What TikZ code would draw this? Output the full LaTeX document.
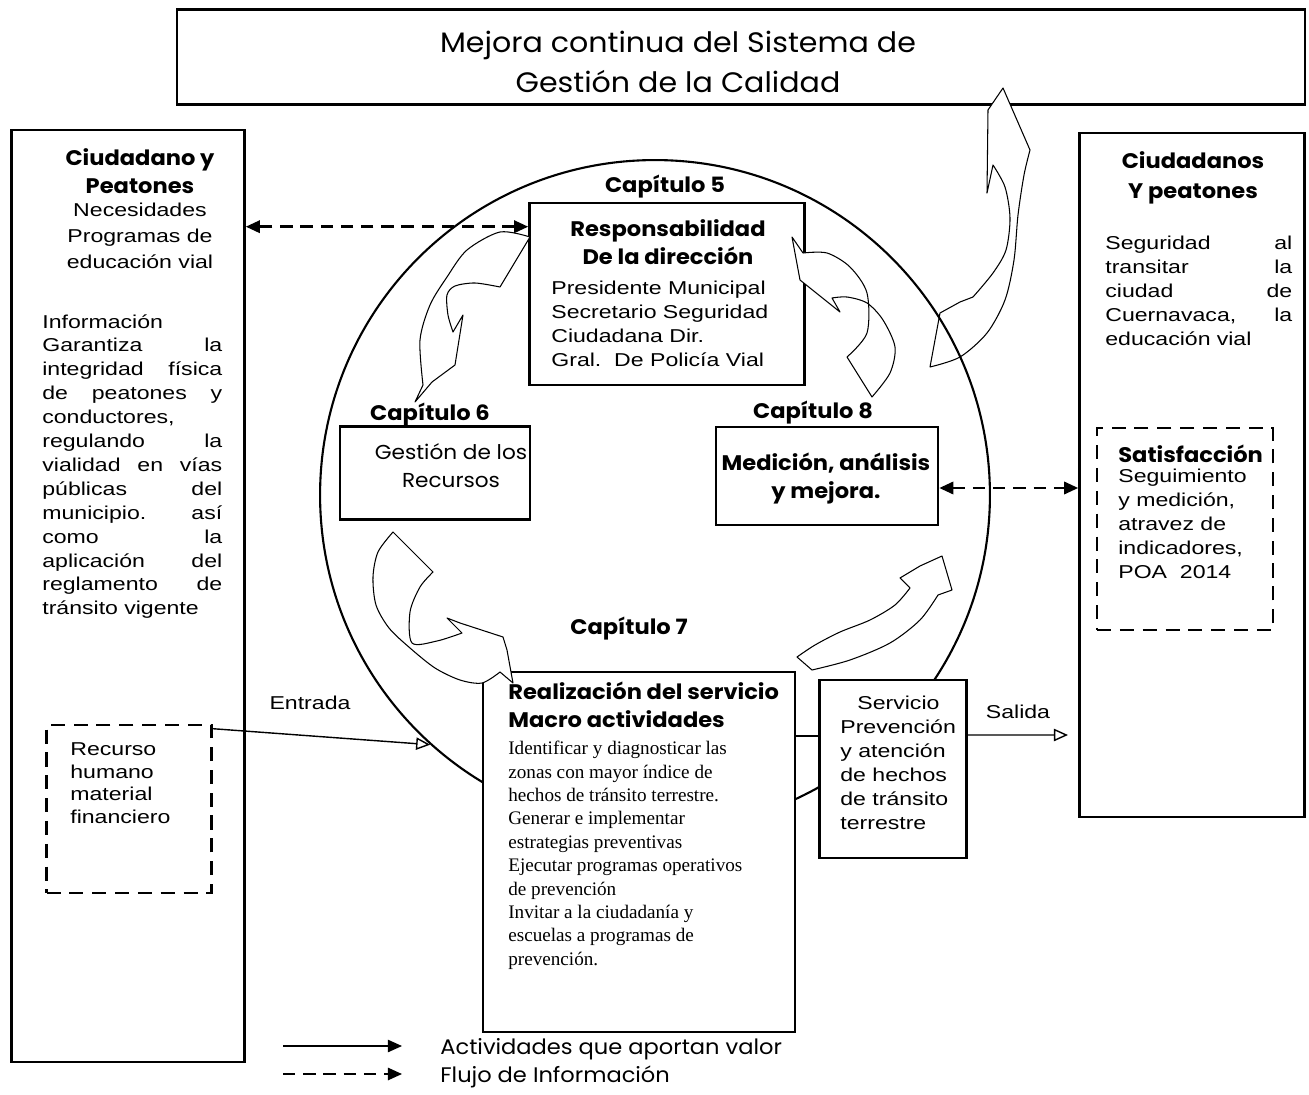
\documentclass[tikz,border=0pt]{standalone}
\usepackage{fontspec}
\setmainfont{Liberation Sans}
\newfontfamily\gothic[FakeStretch=1.07]{Poppins}
\newfontfamily\arialf[FakeStretch=1.24]{Liberation Sans}
\newfontfamily\timesf{Liberation Serif}
\usepackage{tikz}
\usetikzlibrary{arrows.meta,positioning,calc}

\begin{document}
\begin{tikzpicture}[
  x=0.02cm,y=-0.02cm,
  caja/.style={draw,line width=1.5pt,fill=white,inner sep=0pt},
  cajad/.style={draw,line width=1.5pt,dash pattern=on 8pt off 5pt,fill=white,inner sep=0pt},
  tit/.style={font=\gothic\fontsize{16}{22.7}\selectfont,align=center,inner sep=0pt},
  cab/.style={font=\gothic\bfseries\fontsize{12}{15.9}\selectfont,align=center,inner sep=0pt},
  cuerpo/.style={font=\arialf\fontsize{10.6}{13.6}\selectfont,inner sep=0pt},
  serif/.style={font=\timesf\fontsize{10.9}{13.3}\selectfont,inner sep=0pt,align=left},
  flecha/.style={draw,line width=0.6pt,fill=white,line join=round},
  info/.style={line width=1.4pt,dash pattern=on 7pt off 4.5pt,{Triangle[length=8pt,width=7pt]}-{Triangle[length=8pt,width=7pt]}},
  act/.style={line width=0.8pt,-{Triangle[open,length=8pt,width=7pt]}}
]
  \useasboundingbox (0,0) rectangle (1309,1095);

  % mejora continua
  \node[caja,minimum width=22.56cm,minimum height=1.9cm] (mejora) at (741,57) {};
  \node[tit,anchor=north] (titulo) at (678,31) {Mejora continua del Sistema de\\Gestión de la Calidad};

  % flecha grande hacia la mejora
  \draw[flecha] (1003,88) -- (988,110) -- (987,193) -- (993,165)
    -- plot[smooth] coordinates {(993,165) (1005,187) (1010,218) (1006,250) (993,273) (973,297)}
    -- (960,302) -- (940,313) -- (930,367)
    -- plot[smooth] coordinates {(930,367) (960,357) (987,333) (1005,300) (1014,260) (1018,215) (1024,175) (1030,150)}
    -- cycle;

  % ciclo
  \node[circle,draw,line width=1.2pt,minimum size=13.4cm,inner sep=0pt] (ciclo) at (655,495) {};

  % cliente entrada
  \node[caja,minimum width=4.66cm,minimum height=18.64cm] (ciu) at (128,596) {};
  \node[cab,anchor=north] (ciucab) at (140,148) {Ciudadano y\\Peatones};
  \node[cuerpo,font=\arialf\fontsize{10.6}{14.7}\selectfont,align=center,anchor=north] (ciunec) at (140,203) {Necesidades\\Programas de\\educación vial};
  \node[cuerpo,text width=3.6cm,align=left,anchor=north west] (ciuinfo) at (42,314)
    {Información\\Garantiza\hfill la\\integridad\hfill física\\de\hfill peatones\hfill y\\conductores,\\regulando\hfill la\\vialidad\hfill en\hfill vías\\públicas\hfill del\\municipio.\hfill así\\como\hfill la\\aplicación\hfill del\\reglamento\hfill de\\tránsito vigente};
  \node[cajad,minimum width=3.3cm,minimum height=3.36cm] (rec) at (129,809) {};
  \node[cuerpo,font=\arialf\fontsize{10.6}{13}\selectfont,align=left,anchor=north west] (rectxt) at (70,742) {Recurso\\humano\\material\\financiero};

  % cliente salida
  \node[caja,minimum width=4.5cm,minimum height=13.68cm] (der) at (1192,475) {};
  \node[cab,font=\gothic\bfseries\fontsize{12}{17}\selectfont,anchor=north] (dercab) at (1193,151) {Ciudadanos\\Y peatones};
  \node[cuerpo,text width=3.74cm,align=left,anchor=north west] (dertxt) at (1105,236)
    {Seguridad\hfill al\\transitar\hfill la\\ciudad\hfill de\\Cuernavaca,\hfill la\\educación vial};
  \node[cajad,minimum width=3.52cm,minimum height=4.04cm] (sat) at (1185,529) {};
  \node[cab,anchor=north west] (sattit) at (1118,445) {Satisfacción};
  \node[cuerpo,align=left,anchor=north west] (sattxt) at (1118,469) {Seguimiento\\y medición,\\atravez de\\indicadores,\\POA~~2014};

  % capitulos
  \node[cab,anchor=north] (cap5) at (665,175) {Capítulo 5};
  \node[cab,anchor=north] (cap6) at (430,403) {Capítulo 6};
  \node[cab,anchor=north] (cap8) at (813,401) {Capítulo 8};
  \node[cab,anchor=north] (cap7) at (629,617) {Capítulo 7};

  \node[caja,minimum width=5.5cm,minimum height=3.64cm] (resp) at (667,294) {};
  \node[cab,anchor=north] (resptit) at (668,219) {Responsabilidad\\De la dirección};
  \node[cuerpo,align=left,anchor=north west] (resptxt) at (551,281) {Presidente Municipal\\Secretario Seguridad\\Ciudadana Dir.\\Gral.~~De Policía Vial};

  \node[caja,minimum width=3.8cm,minimum height=1.86cm] (gest) at (435,473) {};
  \node[cab,font=\gothic\fontsize{11.5}{15.9}\selectfont,anchor=north] (gesttxt) at (451,443) {Gestión de los\\Recursos};

  \node[caja,minimum width=4.44cm,minimum height=1.96cm] (med) at (827,476) {};
  \node[cab,anchor=north] (medtxt) at (826,453) {Medición, análisis\\y mejora.};

  \node[caja,minimum width=6.24cm,minimum height=7.2cm] (real) at (639,852) {};
  \node[cab,align=left,anchor=north west] (realtit) at (508,682) {Realización del servicio\\Macro actividades};
  \node[serif,anchor=north west] (realtxt) at (508,741)
    {Identificar y diagnosticar las\\zonas con mayor índice de\\hechos de tránsito terrestre.\\Generar e implementar\\estrategias preventivas\\Ejecutar programas operativos\\de prevención\\Invitar a la ciudadanía y\\escuelas a programas de\\prevención.};

  \node[caja,minimum width=2.94cm,minimum height=3.56cm] (serv) at (893,769) {};
  \node[cuerpo,align=left,anchor=north west] (servtxt) at (840,696) {\hspace*{0.34cm}Servicio\\Prevención\\y atención\\de hechos\\de tránsito\\terrestre};

  % flechas del ciclo
  \draw[flecha] (530,237)
    -- plot[smooth] coordinates {(530,237) (500,232) (467,250) (447,277) (430,305) (420,340) (423,385)}
    -- (415,402) -- (432,382) -- (455,365) -- (463,315) -- (453,332)
    -- plot[smooth] coordinates {(453,332) (448,315) (447,295) (455,286) (475,283) (500,287)}
    -- cycle;
  \draw[flecha] (393,532)
    -- plot[smooth] coordinates {(393,532) (378,552) (373,577) (376,605) (389,628) (410,648) (435,668) (460,680) (482,683) (500,672)}
    -- (513,683) -- (507,650) -- (503,637) -- (460,623) -- (447,618) -- (462,633)
    -- plot[smooth] coordinates {(462,633) (437,641) (412,643) (410,612) (420,587) (433,572)}
    -- cycle;
  \draw[flecha] (797,657) -- (812,670)
    -- plot[smooth] coordinates {(812,670) (850,660) (890,643) (920,620) (938,595)}
    -- (952,590) -- (942,556) -- (920,566) -- (900,578) -- (910,588)
    -- plot[smooth] coordinates {(910,588) (895,605) (870,620) (840,632) (815,645) (797,657)}
    -- cycle;
  \draw[flecha] (847,357) -- (872,397)
    -- plot[smooth] coordinates {(872,397) (890,373) (895,347) (883,320) (867,303) (847,297) (832,298)}
    -- (840,312) -- (800,280) -- (792,237) -- (803,253)
    -- plot[smooth] coordinates {(803,253) (827,253) (850,267) (867,293) (867,333) (847,357)}
    -- cycle;

  % conectores
  \draw[info] ([yshift=-0.5cm]resp.north west) -- ([yshift=-0.5cm]resp.north west -| ciu.east);
  \draw[info] ([yshift=-0.24cm]med.east) -- ([yshift=-0.24cm]med.east -| der.west);
  \draw[act] ([yshift=-0.1cm]rec.north east) -- (ciclo.228);
  \draw[line width=0.8pt] ([yshift=0.66cm]serv.west) -- ([yshift=0.66cm]serv.west -| real.east);
  \coordinate (salfin) at (1068,735);
  \draw[act] ([yshift=0.68cm]serv.east) -- (salfin);
  \node[cuerpo,anchor=north] (entlbl) at (310,696) {Entrada};
  \node[cuerpo,anchor=north] (sallbl) at (1018,705) {Salida};

  % leyenda
  \coordinate (ley1a) at (283,1046);
  \coordinate (ley1b) at (402,1046);
  \coordinate (ley2a) at (283,1074);
  \coordinate (ley2b) at (402,1074);
  \draw[act,-{Triangle[length=8pt,width=7pt]}] (ley1a) -- (ley1b);
  \draw[info,{}-{Triangle[length=8pt,width=7pt]},line width=1pt] (ley2a) -- (ley2b);
  \node[font=\gothic\fontsize{12}{14}\selectfont,inner sep=0pt,anchor=north west] (ley1txt) at (440,1038) {Actividades que aportan valor};
  \node[font=\gothic\fontsize{12}{14}\selectfont,inner sep=0pt,anchor=north west] (ley2txt) at (440,1066) {Flujo de Información};
\end{tikzpicture}
\end{document}
